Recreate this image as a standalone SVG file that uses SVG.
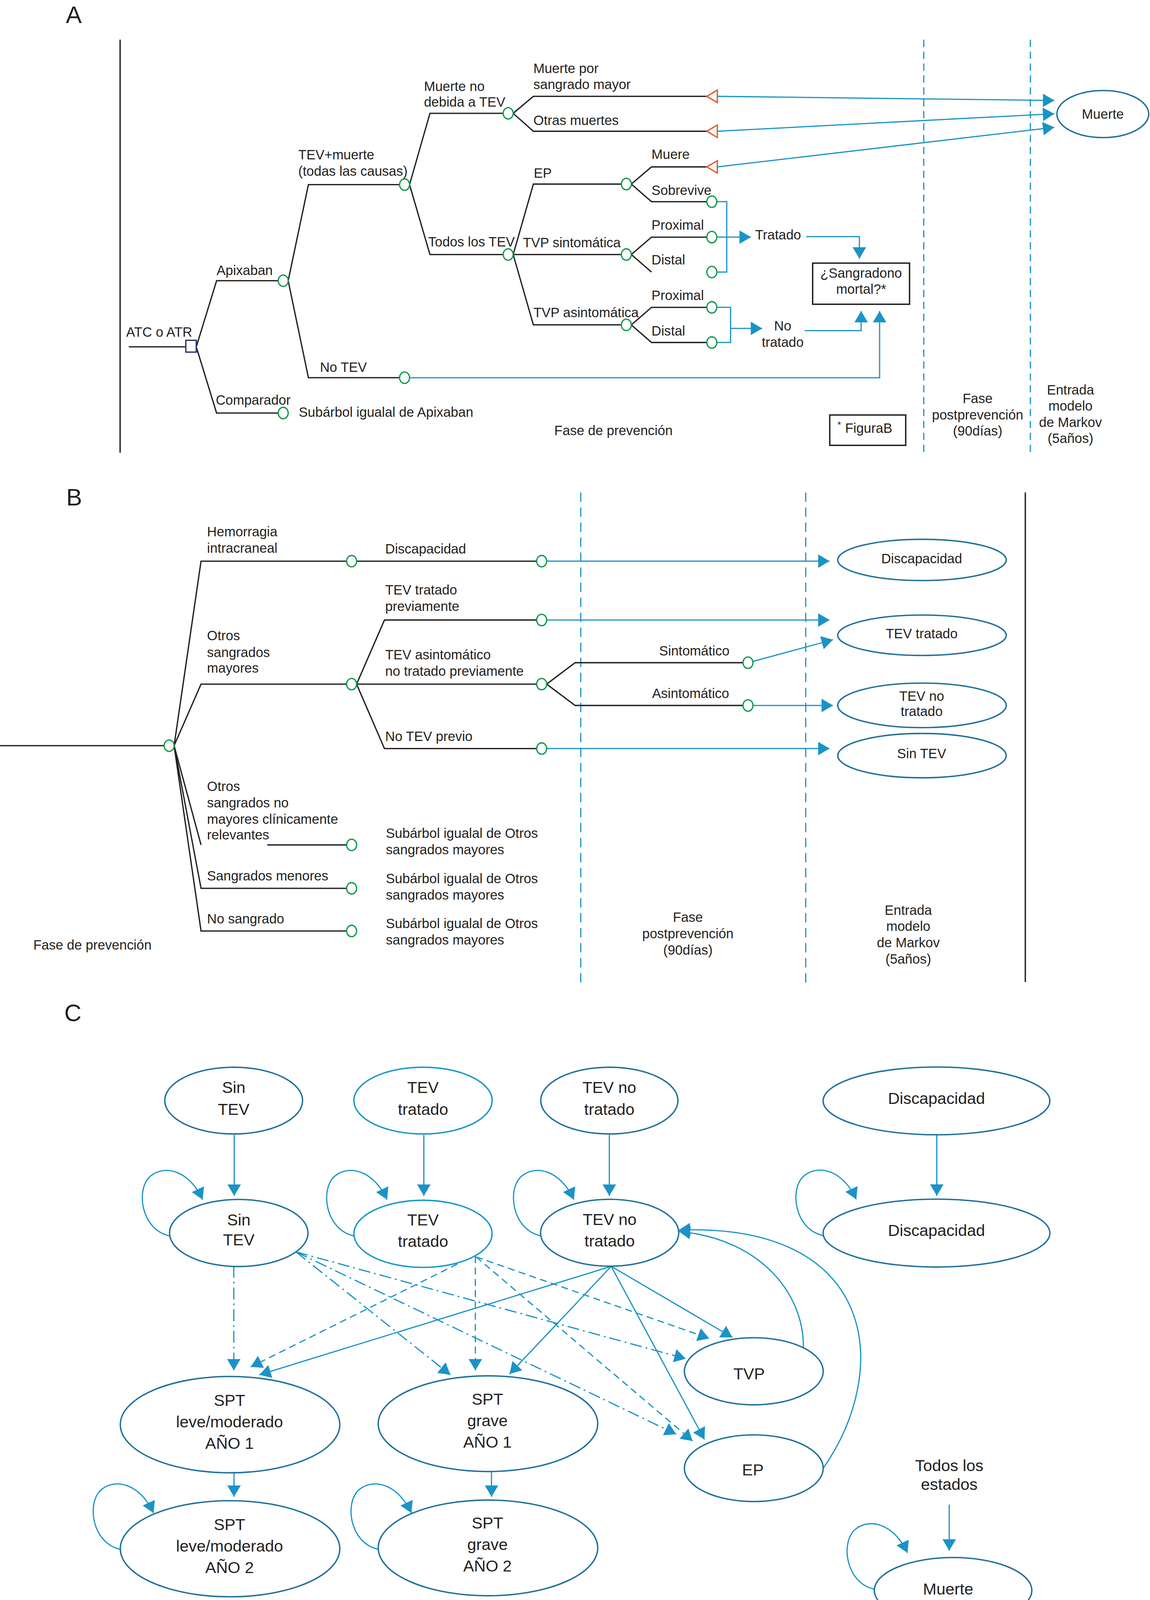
<svg xmlns="http://www.w3.org/2000/svg" width="2943" height="4160" viewBox="0 0 2943 4160">
<defs>
<style>
.ln{stroke:#231f20;stroke-width:1.25;fill:none}
.bl{stroke:#1a93c6;stroke-width:1.15;fill:none}
.ch{fill:#fff;stroke:#119a4c;stroke-width:1.25}
.el{fill:#fff;stroke:#20709a;stroke-width:1.35}
.el2{fill:#fff;stroke:#1996c9;stroke-width:1.35}
.tri{fill:#fff;stroke:#e0592a;stroke-width:1.25}
.box{fill:#fff;stroke:#231f20;stroke-width:1.35}
.vd{stroke:#1a93c6;stroke-width:1.15;stroke-dasharray:7 4.5;fill:none}
.vdB{stroke:#1a93c6;stroke-width:1.15;stroke-dasharray:9 5.5;fill:none}
.da{stroke-dasharray:6.7 4.2}
.dd{stroke-dasharray:11.5 3.8 1.8 3.8}
text{font-family:"Liberation Sans",Arial,Helvetica,sans-serif;font-size:13px;fill:#231f20}
.m{text-anchor:middle}
.c{font-size:15.6px}
.lab{font-size:23px}
</style>
<marker id="ah" markerUnits="userSpaceOnUse" markerWidth="12" markerHeight="13" refX="11" refY="6.5" orient="auto" overflow="visible">
<path d="M0,0 L11,6.5 L0,13 z" fill="#1a93c6"/>
</marker>
</defs>
<rect width="2943" height="4160" fill="#fff"/>
<g transform="scale(2.652)">

<!-- ================= PANEL A ================= -->
<g id="panelA-labels">
<text class="lab" x="63.5" y="22.1">A</text>
<line x1="115.9" y1="38.3" x2="115.9" y2="437" stroke="#231f20" stroke-width="1.3"/>
<line class="vd" x1="891.4" y1="38.3" x2="891.4" y2="437"/>
<line class="vd" x1="994.3" y1="38.3" x2="994.3" y2="437"/>
<text class="m" x="592" y="420">Fase de prevención</text>
<text class="m" x="943.4" y="389">Fase</text>
<text class="m" x="943.4" y="404.9">postprevención</text>
<text class="m" x="943.4" y="420.5">(90días)</text>
<text class="m" x="1033" y="380.8">Entrada</text>
<text class="m" x="1033" y="396.4">modelo</text>
<text class="m" x="1033" y="412">de Markov</text>
<text class="m" x="1033" y="427.6">(5años)</text>
</g>

<g id="A-connectors">
<path class="ln" d="M124.3,334.8 H179.3"/>
<path class="ln" d="M189.4,334.8 L209,271 H268.5"/>
<path class="ln" d="M189.4,334.8 L209,398.7 H268.5"/>
<path class="ln" d="M278.1,271 L297.6,178.2 H385.6"/>
<path class="ln" d="M278.1,271 L297.6,364.6 H385.6"/>
<path class="ln" d="M395.2,178.2 L414.9,109.4 H485.6"/>
<path class="ln" d="M395.2,178.2 L414.9,245.7 H485.6"/>
<path class="ln" d="M495.2,109.4 L514.7,93 H682.1"/>
<path class="ln" d="M495.2,109.4 L514.7,126.7 H682.1"/>
<path class="ln" d="M495.2,245.7 L514.7,177.7 H599.6"/>
<path class="ln" d="M495.2,245.7 H599.6"/>
<path class="ln" d="M495.2,245.7 L514.7,313.6 H599.6"/>
<path class="ln" d="M609.2,177.7 L628.7,161.1 H682.1"/>
<path class="ln" d="M609.2,177.7 L628.7,194.7 H682.1"/>
<path class="ln" d="M609.2,245.7 L628.7,228.9 H682.1"/>
<path class="ln" d="M609.2,245.7 L628.7,262.6"/>
<path class="ln" d="M609.2,313.6 L628.7,296.7 H682.1"/>
<path class="ln" d="M609.2,313.6 L628.7,330.6 H682.1"/>
<path class="bl" d="M692.2,93 L1017.4,97" marker-end="url(#ah)"/>
<path class="bl" d="M692.2,126.7 L1017.4,109.8" marker-end="url(#ah)"/>
<path class="bl" d="M692.2,161.1 L1017.4,122.9" marker-end="url(#ah)"/>
<path class="bl" d="M691.7,194.7 H701.3 V262.6 H691.7"/>
<path class="bl" d="M691.7,228.9 H724.6" marker-end="url(#ah)"/>
<path class="bl" d="M691.7,296.7 H705 V330.6 H691.7"/>
<path class="bl" d="M705,317 H735.5" marker-end="url(#ah)"/>
<path class="bl" d="M778,228.4 H829.3 V249.7" marker-end="url(#ah)"/>
<path class="bl" d="M776.6,319.2 H831 V300.2" marker-end="url(#ah)"/>
<path class="bl" d="M395.2,364.6 H848.8 V300.2" marker-end="url(#ah)"/>
</g>

<g id="A-decision-ATC">
<rect x="179.3" y="328.5" width="10.1" height="11.4" fill="#fff" stroke="#2b3576" stroke-width="1.3"/>
<text x="121.7" y="324.9">ATC o ATR</text>
</g>
<g id="A-apixaban"><ellipse class="ch" cx="273.3" cy="271" rx="4.8" ry="5.5"/><text x="209" y="265.3">Apixaban</text></g>
<g id="A-comparador"><ellipse class="ch" cx="273.3" cy="398.7" rx="4.8" ry="5.5"/><text x="208.2" y="390.7">Comparador</text><text x="288.3" y="402.3">Subárbol igualal de Apixaban</text></g>
<g id="A-tevmuerte"><ellipse class="ch" cx="390.4" cy="178.2" rx="4.8" ry="5.5"/><text x="287.8" y="153.8">TEV+muerte</text><text x="287.8" y="169.7">(todas las causas)</text></g>
<g id="A-notev"><ellipse class="ch" cx="390.4" cy="364.6" rx="4.8" ry="5.5"/><text x="308.7" y="358.9">No TEV</text></g>
<g id="A-muerteno"><ellipse class="ch" cx="490.4" cy="109.4" rx="4.8" ry="5.5"/><text x="409.1" y="87.7">Muerte no</text><text x="409.1" y="103.1">debida a TEV</text></g>
<g id="A-todostev"><ellipse class="ch" cx="490.4" cy="245.7" rx="4.8" ry="5.5"/><text x="413.2" y="237.8">Todos los TEV</text></g>
<g id="A-sangrado"><polygon class="tri" points="682.1,93 692.2,87 692.2,99"/><text x="514.7" y="70.6">Muerte por</text><text x="514.7" y="85.8">sangrado mayor</text></g>
<g id="A-otras"><polygon class="tri" points="682.1,126.7 692.2,120.7 692.2,132.7"/><text x="514.7" y="120.7">Otras muertes</text></g>
<g id="A-ep"><ellipse class="ch" cx="604.4" cy="177.7" rx="4.8" ry="5.5"/><text x="515.1" y="171.7">EP</text></g>
<g id="A-tvpsint"><ellipse class="ch" cx="604.4" cy="245.7" rx="4.8" ry="5.5"/><text x="504.6" y="238.8">TVP sintomática</text></g>
<g id="A-tvpasint"><ellipse class="ch" cx="604.4" cy="313.6" rx="4.8" ry="5.5"/><text x="514.7" y="306.3">TVP asintomática</text></g>
<g id="A-muere"><polygon class="tri" points="682.1,161.1 692.2,155.1 692.2,167.1"/><text x="628.7" y="153.6">Muere</text></g>
<g id="A-sobrevive"><ellipse class="ch" cx="686.9" cy="194.7" rx="4.8" ry="5.5"/><text x="628.7" y="188">Sobrevive</text></g>
<g id="A-prox1"><ellipse class="ch" cx="686.9" cy="228.9" rx="4.8" ry="5.5"/><text x="628.7" y="221.7">Proximal</text></g>
<g id="A-dist1"><ellipse class="ch" cx="686.9" cy="262.6" rx="4.8" ry="5.5"/><text x="628.7" y="255.4">Distal</text></g>
<g id="A-prox2"><ellipse class="ch" cx="686.9" cy="296.7" rx="4.8" ry="5.5"/><text x="628.7" y="289.7">Proximal</text></g>
<g id="A-dist2"><ellipse class="ch" cx="686.9" cy="330.6" rx="4.8" ry="5.5"/><text x="628.7" y="323.9">Distal</text></g>
<g id="A-tratado"><text x="728.7" y="231">Tratado</text></g>
<g id="A-notratado"><text class="m" x="755.3" y="319">No</text><text class="m" x="755.3" y="334.8">tratado</text></g>
<g id="A-sangradono"><rect class="box" x="784.2" y="254" width="93.5" height="39.7"/><text class="m" x="831" y="268">¿Sangradono</text><text class="m" x="831" y="283.7">mortal?*</text></g>
<g id="A-figurab"><rect class="box" x="800.7" y="400.6" width="73.3" height="29.3"/><text x="808.2" y="417.9"><tspan font-size="9" dy="-4.5">*</tspan><tspan x="815.5" dy="4.5">FiguraB</tspan></text></g>
<g id="A-muerte"><ellipse class="el" cx="1064.2" cy="110.1" rx="44.3" ry="22.7"/><text class="m" x="1064.2" y="114.6">Muerte</text></g>

<!-- ================= PANEL B ================= -->
<g id="panelB-labels">
<text class="lab" x="63.9" y="488">B</text>
<line class="vdB" x1="560.4" y1="475.4" x2="560.4" y2="950"/>
<line class="vdB" x1="777.5" y1="475.4" x2="777.5" y2="950"/>
<line x1="989.4" y1="475.4" x2="989.4" y2="948" stroke="#231f20" stroke-width="1.3"/>
<text x="32.1" y="916.5">Fase de prevención</text>
<text class="m" x="663.8" y="889.9">Fase</text>
<text class="m" x="663.8" y="905.7">postprevención</text>
<text class="m" x="663.8" y="921.6">(90días)</text>
<text class="m" x="876.5" y="883.2">Entrada</text>
<text class="m" x="876.5" y="898.4">modelo</text>
<text class="m" x="876.5" y="914.3">de Markov</text>
<text class="m" x="876.5" y="930.2">(5años)</text>
</g>

<g id="B-connectors">
<path class="ln" d="M0,719.8 H158.4"/>
<path class="ln" d="M168,719.8 L194,541.7 H334.5"/>
<path class="ln" d="M168,719.8 L194,660.4 H334.5"/>
<path class="ln" d="M168,719.8 L194,815.6 M258,815.6 H334.5"/>
<path class="ln" d="M168,719.8 L194,857.5 H334.5"/>
<path class="ln" d="M168,719.8 L194,898.7 H334.5"/>
<path class="ln" d="M344.1,541.7 H517.9"/>
<path class="ln" d="M344.1,660.4 L371,598.5 H517.9"/>
<path class="ln" d="M344.1,660.4 H517.9"/>
<path class="ln" d="M344.1,660.4 L371,722.6 H517.9"/>
<path class="ln" d="M527.5,660.4 L555,639.7 H717"/>
<path class="ln" d="M527.5,660.4 L555,681 H717"/>
<path class="bl" d="M527.5,541.7 H800.5" marker-end="url(#ah)"/>
<path class="bl" d="M527.5,598.5 H800.5" marker-end="url(#ah)"/>
<path class="bl" d="M726.6,638.5 L803.8,617.5" marker-end="url(#ah)"/>
<path class="bl" d="M726.6,681 H803.8" marker-end="url(#ah)"/>
<path class="bl" d="M527.5,722.6 H800.5" marker-end="url(#ah)"/>
</g>

<g id="B-root"><ellipse class="ch" cx="163.2" cy="719.8" rx="4.8" ry="5.5"/></g>
<g id="B-hemorragia"><ellipse class="ch" cx="339.3" cy="541.7" rx="4.8" ry="5.5"/><text x="199.8" y="517.6">Hemorragia</text><text x="199.8" y="533.4">intracraneal</text></g>
<g id="B-otrosmayores"><ellipse class="ch" cx="339.3" cy="660.4" rx="4.8" ry="5.5"/><text x="199.8" y="618.2">Otros</text><text x="199.8" y="634.1">sangrados</text><text x="199.8" y="649.3">mayores</text></g>
<g id="B-nomayores"><ellipse class="ch" cx="339.3" cy="815.6" rx="4.8" ry="5.5"/><text x="199.8" y="763.5">Otros</text><text x="199.8" y="779.4">sangrados no</text><text x="199.8" y="795.3">mayores clínicamente</text><text x="199.8" y="810.5">relevantes</text><text x="372.4" y="808.9">Subárbol igualal de Otros</text><text x="372.4" y="824.8">sangrados mayores</text></g>
<g id="B-menores"><ellipse class="ch" cx="339.3" cy="857.5" rx="4.8" ry="5.5"/><text x="199.8" y="849.9">Sangrados menores</text><text x="372.4" y="852.4">Subárbol igualal de Otros</text><text x="372.4" y="868.3">sangrados mayores</text></g>
<g id="B-nosangrado"><ellipse class="ch" cx="339.3" cy="898.7" rx="4.8" ry="5.5"/><text x="199.8" y="891.5">No sangrado</text><text x="372.4" y="895.9">Subárbol igualal de Otros</text><text x="372.4" y="911.8">sangrados mayores</text></g>
<g id="B-discapacidad"><ellipse class="ch" cx="522.7" cy="541.7" rx="4.8" ry="5.5"/><text x="371.7" y="534.4">Discapacidad</text></g>
<g id="B-tevtratado"><ellipse class="ch" cx="522.7" cy="598.5" rx="4.8" ry="5.5"/><text x="371.7" y="574">TEV tratado</text><text x="371.7" y="589.9">previamente</text></g>
<g id="B-tevasint"><ellipse class="ch" cx="522.7" cy="660.4" rx="4.8" ry="5.5"/><text x="371.7" y="636.6">TEV asintomático</text><text x="371.7" y="652.5">no tratado previamente</text></g>
<g id="B-notev"><ellipse class="ch" cx="522.7" cy="722.6" rx="4.8" ry="5.5"/><text x="371.7" y="715.3">No TEV previo</text></g>
<g id="B-sint"><ellipse class="ch" cx="721.8" cy="639.7" rx="4.8" ry="5.5"/><text class="m" x="670" y="632.8">Sintomático</text></g>
<g id="B-asint"><ellipse class="ch" cx="721.8" cy="681" rx="4.8" ry="5.5"/><text class="m" x="666.4" y="674">Asintomático</text></g>
<g id="B-s-discapacidad"><ellipse class="el" cx="889.7" cy="540.5" rx="81.3" ry="19.9"/><text class="m" x="889.4" y="543.6">Discapacidad</text></g>
<g id="B-s-tevtratado"><ellipse class="el" cx="889.7" cy="613.2" rx="81.3" ry="19.5"/><text class="m" x="889.4" y="616">TEV tratado</text></g>
<g id="B-s-tevnotratado"><ellipse class="el" cx="889.7" cy="680.9" rx="81.3" ry="21.5"/><text class="m" x="889.4" y="676.3">TEV no</text><text class="m" x="889.4" y="691.2">tratado</text></g>
<g id="B-s-sintev"><ellipse class="el" cx="889.7" cy="729.4" rx="81.3" ry="21.4"/><text class="m" x="889.4" y="731.8">Sin TEV</text></g>

<!-- ================= PANEL C ================= -->
<g id="panelC-label"><text class="lab" x="62" y="985.5">C</text></g>

<g id="C-connectors">
<path class="bl" d="M226,1095.5 V1154.4" marker-end="url(#ah)"/>
<path class="bl" d="M409,1095.5 V1154.4" marker-end="url(#ah)"/>
<path class="bl" d="M588,1095.5 V1154.4" marker-end="url(#ah)"/>
<path class="bl" d="M904,1095.3 V1154.3" marker-end="url(#ah)"/>
<path class="bl" d="M163.6,1193 c-28,-6 -33,-46 -18,-58 c14,-11 37,-5 50,23" marker-end="url(#ah)"/>
<path class="bl" d="M341.5,1193 c-28,-6 -33,-46 -18,-58 c14,-11 37,-5 50,23" marker-end="url(#ah)"/>
<path class="bl" d="M521.8,1193 c-28,-6 -33,-46 -18,-58 c14,-11 37,-5 50,23" marker-end="url(#ah)"/>
<path class="bl" d="M794.3,1192.7 c-28,-6 -33,-46 -18,-58 c14,-11 37,-5 50,23" marker-end="url(#ah)"/>
<path class="bl" d="M116.2,1495.6 c-28,-6 -33,-46 -18,-58 c14,-11 37,-5 50,23" marker-end="url(#ah)"/>
<path class="bl" d="M365,1495.6 c-28,-6 -33,-46 -18,-58 c14,-11 37,-5 50,23" marker-end="url(#ah)"/>
<path class="bl" d="M843.7,1534 c-28,-6 -33,-46 -18,-58 c14,-11 37,-5 50,23" marker-end="url(#ah)"/>
<!-- dash-dot from Sin TEV -->
<path class="bl dd" d="M225.6,1222 V1322.9" marker-end="url(#ah)"/>
<path class="bl dd" d="M285.7,1208.5 L434.6,1327.1" marker-end="url(#ah)"/>
<path class="bl dd" d="M285.7,1208.5 L661.7,1311.6" marker-end="url(#ah)"/>
<path class="bl dd" d="M285.7,1208.5 L652.5,1384.4" marker-end="url(#ah)"/>
<!-- dashed from TEV tratado -->
<path class="bl da" d="M441.3,1220.2 L241.9,1319.5" marker-end="url(#ah)"/>
<path class="bl da" d="M458.7,1212.7 V1322.9" marker-end="url(#ah)"/>
<path class="bl da" d="M459.4,1213.3 L684.4,1292" marker-end="url(#ah)"/>
<path class="bl da" d="M459.4,1213.3 L668.4,1391" marker-end="url(#ah)"/>
<!-- solid from TEV no tratado -->
<path class="bl" d="M589.8,1222.4 L250.3,1327.1" marker-end="url(#ah)"/>
<path class="bl" d="M589.8,1222.4 L491.7,1326.3" marker-end="url(#ah)"/>
<path class="bl" d="M589.8,1222.4 L706.8,1291" marker-end="url(#ah)"/>
<path class="bl" d="M589.8,1222.4 L679.8,1389.5" marker-end="url(#ah)"/>
<!-- returns to TEV no tratado -->
<path class="bl" d="M775.2,1300.6 C776,1250 735,1196 655,1188.7" marker-end="url(#ah)"/>
<path class="bl" d="M794.3,1417.5 C862,1320 845,1180 655,1187.4" marker-end="url(#ah)"/>
<!-- AÑO1 to AÑO2 -->
<path class="bl" d="M225.8,1421.7 V1444.9" marker-end="url(#ah)"/>
<path class="bl" d="M474.3,1420.5 V1444.9" marker-end="url(#ah)"/>
<!-- todos los estados -->
<path class="bl" d="M916,1452.5 V1496.9" marker-end="url(#ah)"/>
</g>

<g id="C-sintev-0"><ellipse class="el" cx="225.5" cy="1062.4" rx="66.5" ry="32.2"/><text class="m c" x="225.5" y="1055">Sin</text><text class="m c" x="225.5" y="1076">TEV</text></g>
<g id="C-tevtratado-0"><ellipse class="el2" cx="408.2" cy="1062.4" rx="66.7" ry="32.2"/><text class="m c" x="408.2" y="1055">TEV</text><text class="m c" x="408.2" y="1076">tratado</text></g>
<g id="C-tevnotratado-0"><ellipse class="el" cx="588" cy="1062.4" rx="66.2" ry="32.2"/><text class="m c" x="588" y="1055">TEV no</text><text class="m c" x="588" y="1076">tratado</text></g>
<g id="C-discapacidad-0"><ellipse class="el" cx="903.7" cy="1062.7" rx="109.4" ry="32.7"/><text class="m c" x="903.7" y="1065.7">Discapacidad</text></g>
<g id="C-sintev"><ellipse class="el" cx="230.4" cy="1190.2" rx="66.8" ry="32.4"/><text class="m c" x="230.4" y="1182.7">Sin</text><text class="m c" x="230.4" y="1202">TEV</text></g>
<g id="C-tevtratado"><ellipse class="el2" cx="408.2" cy="1191" rx="66.7" ry="32.4"/><text class="m c" x="408.2" y="1183">TEV</text><text class="m c" x="408.2" y="1203.5">tratado</text></g>
<g id="C-tevnotratado"><ellipse class="el" cx="588.3" cy="1190" rx="66.7" ry="32.3"/><text class="m c" x="588.3" y="1182.6">TEV no</text><text class="m c" x="588.3" y="1203.3">tratado</text></g>
<g id="C-discapacidad"><ellipse class="el" cx="903.7" cy="1190.3" rx="109.4" ry="32.8"/><text class="m c" x="903.7" y="1193.2">Discapacidad</text></g>
<g id="C-tvp"><ellipse class="el" cx="727.4" cy="1323.7" rx="67" ry="32.4"/><text class="m c" x="722.9" y="1331.5">TVP</text></g>
<g id="C-ep"><ellipse class="el" cx="727.4" cy="1417.3" rx="67" ry="32.2"/><text class="m c" x="726.5" y="1424.1">EP</text></g>
<g id="C-sptleve1"><ellipse class="el" cx="222" cy="1375.2" rx="105.9" ry="46.5"/><text class="m c" x="221.5" y="1357">SPT</text><text class="m c" x="221.5" y="1377.7">leve/moderado</text><text class="m c" x="221.5" y="1398.4">AÑO 1</text></g>
<g id="C-sptgrave1"><ellipse class="el" cx="470.9" cy="1374.3" rx="105.9" ry="46.2"/><text class="m c" x="470.4" y="1356">SPT</text><text class="m c" x="470.4" y="1376.7">grave</text><text class="m c" x="470.4" y="1397.3">AÑO 1</text></g>
<g id="C-sptleve2"><ellipse class="el" cx="222" cy="1495" rx="105.9" ry="46.4"/><text class="m c" x="221.5" y="1477">SPT</text><text class="m c" x="221.5" y="1497.6">leve/moderado</text><text class="m c" x="221.5" y="1518.3">AÑO 2</text></g>
<g id="C-sptgrave2"><ellipse class="el" cx="470.9" cy="1494.2" rx="105.9" ry="46.2"/><text class="m c" x="470.4" y="1475.5">SPT</text><text class="m c" x="470.4" y="1496.2">grave</text><text class="m c" x="470.4" y="1516.9">AÑO 2</text></g>
<g id="C-todos"><text class="m c" x="916" y="1420">Todos los</text><text class="m c" x="916" y="1438.3">estados</text></g>
<g id="C-muerte"><ellipse class="el" cx="919.7" cy="1535.3" rx="76" ry="31.8"/><text class="m c" x="914.9" y="1539.3">Muerte</text></g>

</g>
</svg>
